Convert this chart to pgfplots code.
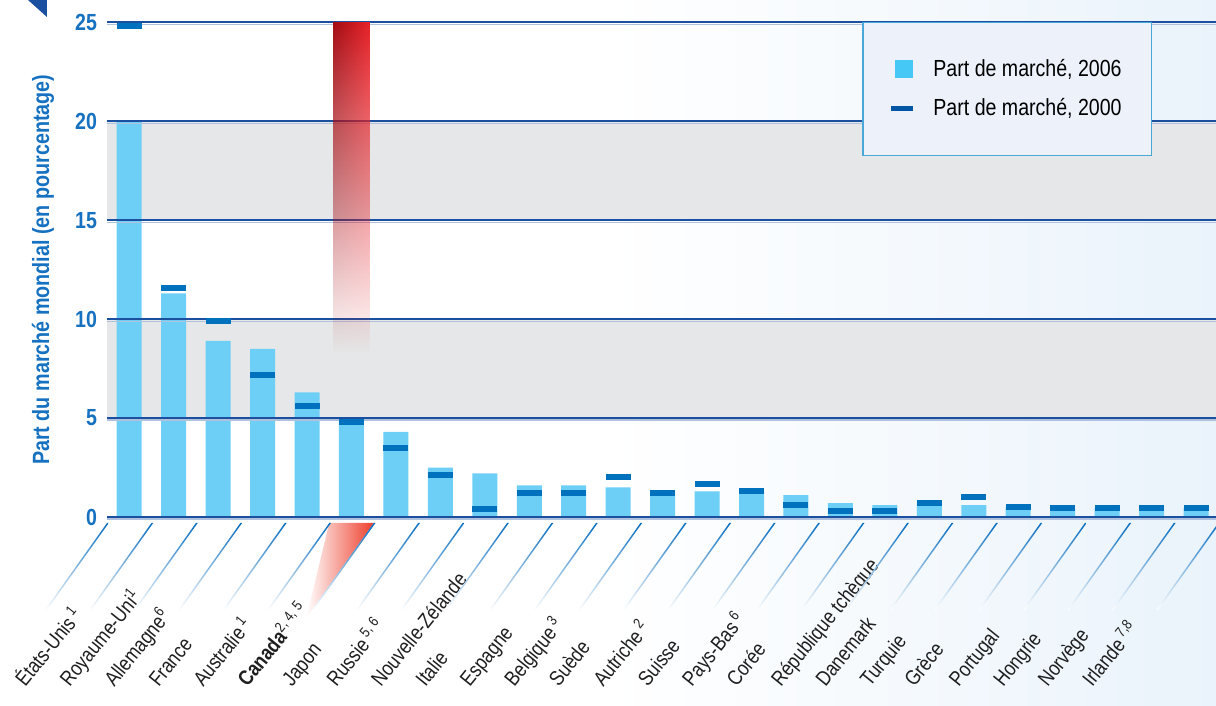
\documentclass[border=0pt]{standalone}
\usepackage{fontspec}
\setmainfont{Liberation Sans}[FakeStretch=0.84]
\usepackage{pgfplots}
\pgfplotsset{compat=1.18}
\usetikzlibrary{fadings}
\definecolor{bar06}{HTML}{6DCFF6}
\definecolor{mk00}{HTML}{0071BC}
\definecolor{gridblue}{HTML}{1B4F9F}
\definecolor{band}{HTML}{E6E7E8}
\definecolor{tickblue}{HTML}{1672C0}
\definecolor{legfill}{HTML}{ECF1FA}
\definecolor{legborder}{HTML}{4AA8D8}
\definecolor{legsq}{HTML}{45C8F5}
\definecolor{legdash}{HTML}{0055A4}
\definecolor{redL}{HTML}{A30D14}
\definecolor{redR}{HTML}{E82229}
\definecolor{triR}{HTML}{EE3F2C}
\definecolor{lineblue}{HTML}{0A6EC0}
\definecolor{bgtint}{HTML}{EAF3FB}
\tikzfading[name=colfade, top color=transparent!0, bottom color=transparent!100]
\begin{document}
\begin{tikzpicture}
\useasboundingbox (-53.5pt,-94.5pt) rectangle (554.5pt,258.5pt);
\shade[left color=white, right color=bgtint, middle color=white] (-53.5pt,-94.5pt) rectangle (554.5pt,258.5pt);
\fill[gridblue] (-39.5pt,258.5pt) -- (-30pt,258.5pt) -- (-30pt,250pt) -- cycle;
\begin{axis}[
  at={(0,0)}, anchor=south west,
  scale only axis, width=554.5pt, height=247.25pt,
  xmin=-0.5, xmax=24.45, ymin=0, ymax=25,
  clip=false,
  axis line style={draw=none},
  major tick length=0pt,
  ytick={0,5,...,25},
  xtick={0,...,24},
  xticklabels={{États-Unis\,\textsuperscript{1}},{Royaume-Uni\textsuperscript{1}},{Allemagne\textsuperscript{6}},France,{Australie\,\textsuperscript{1}},{\textbf{Canada}\textsuperscript{2, 4, 5}},Japon,{Russie\,\textsuperscript{5, 6}},Nouvelle-Zélande,Italie,Espagne,{Belgique\,\textsuperscript{3}},Suède,{Autriche\,\textsuperscript{2}},Suisse,{Pays-Bas\,\textsuperscript{6}},Corée,République tchèque,Danemark,Turquie,Grèce,Portugal,Hongrie,Norvège,{Irlande\,\textsuperscript{7,8}}},
  xticklabel style={xshift=-52pt, yshift=-85.5pt, rotate=51, anchor=base west, inner sep=0pt, font=\fontsize{10.5}{12}\selectfont, text=black!88},
  /pgf/number format/assume math mode=true,
  yticklabel style={font=\fontsize{11.65}{13}\selectfont\bfseries, text=tickblue, xshift=-1.5pt},
  ylabel={Part du marché mondial (en pourcentage)},
  every axis y label/.style={at={(axis description cs:-0.0577,0.5)}, rotate=90, anchor=center},
  ylabel style={font=\fontsize{11.75}{13}\selectfont\bfseries, text=tickblue},
  legend style={at={(0.681,1.002)}, anchor=north west, draw=legborder, line width=0.8pt, fill=legfill,
    inner xsep=13pt, inner ysep=16.5pt, row sep=5.5pt, font=\fontsize{11.65}{13}\selectfont,
    /tikz/every odd column/.append style={column sep=7pt}},
  legend cell align=left,
]
\fill[band] (axis cs:-0.5,5) rectangle (axis cs:24.45,10);
\fill[band] (axis cs:-0.5,15) rectangle (axis cs:24.45,20);
\addplot[ybar, bar width=12.5pt, fill=bar06, draw=none,
  legend image code/.code={\fill[legsq] (2pt,-4.5pt) rectangle (11pt,4.5pt);}]
coordinates {(0,20.0) (1,11.3) (2,8.9) (3,8.5) (4,6.3) (5,4.9) (6,4.3) (7,2.5) (8,2.2) (9,1.6)
 (10,1.6) (11,1.5) (12,1.3) (13,1.3) (14,1.35) (15,1.1) (16,0.7) (17,0.6) (18,0.75) (19,0.6)
 (20,0.5) (21,0.45) (22,0.45) (23,0.45) (24,0.45)};
\addlegendentry{Part de marché, 2006}
\pgfplotsinvokeforeach{0,5,10,15,20,25}{
  \draw[gridblue!35, line width=0.6pt] ([yshift=-1pt]axis cs:-0.5,#1) -- ([yshift=-1pt]axis cs:24.45,#1);
  \draw[gridblue, line width=1pt] (axis cs:-0.5,#1) -- (axis cs:24.45,#1);
}
\shade[left color=redL, right color=redR, path fading=colfade] (axis cs:4.585,8.3) rectangle (axis cs:5.415,25);
\addplot[only marks, mark=-, mark size=6.25pt, color=mk00, mark options={line width=3pt},
  legend image code/.code={\draw[legdash, line width=2.2pt] (0pt,0pt) -- (11pt,0pt);}]
coordinates {(0,24.8) (1,11.6) (2,9.9) (3,7.2) (4,5.6) (5,4.8) (6,3.5) (7,2.1) (8,0.4) (9,1.2)
 (10,1.2) (11,2.0) (12,1.2) (13,1.65) (14,1.3) (15,0.6) (16,0.3) (17,0.3) (18,0.7) (19,1.0)
 (20,0.5) (21,0.43) (22,0.43) (23,0.43) (24,0.43)};
\addlegendentry{Part de marché, 2000}
\shade[left color=white, right color=triR] ([yshift=-3pt]axis cs:4.5,0) -- ([yshift=-3pt]axis cs:5.5,0) -- ([shift={(-11.5pt,-50.5pt)}]axis cs:4.5,0) -- cycle;
\pgfplotsinvokeforeach{-0.5,0.5,...,24.5}{
  \shade[top color=lineblue, bottom color=white] ([yshift=-3pt]axis cs:#1,0) -- ++(-31pt,-43.5pt) -- ++(0.9pt,0pt) -- ++(31pt,43.5pt) -- cycle;
}
\end{axis}
\end{tikzpicture}
\end{document}
